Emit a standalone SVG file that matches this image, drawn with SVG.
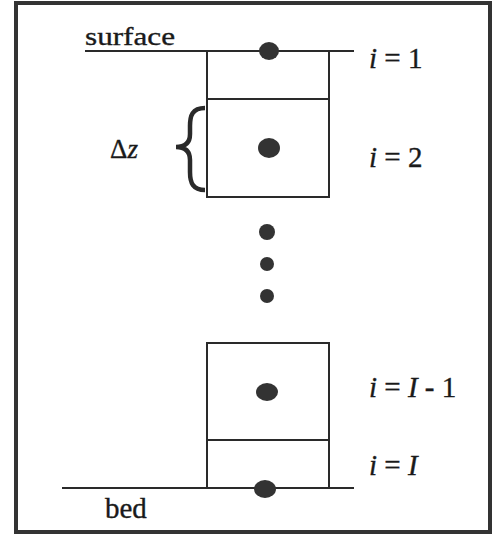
<svg xmlns="http://www.w3.org/2000/svg" width="500" height="540" viewBox="0 0 500 540">
<style>
.ln{stroke:#2a2a2a;stroke-width:2;fill:none}
.box{stroke:#2a2a2a;stroke-width:2;fill:#fff}
.dot{fill:#333}
.t{font-family:"Liberation Serif","Times New Roman",serif;fill:#1a1a1a;stroke:#1a1a1a;stroke-width:0.35}
.it{font-style:italic}
</style>
<rect x="0" y="0" width="500" height="540" fill="#fff"/>
<rect x="16" y="3" width="474" height="529" fill="none" stroke="#333" stroke-width="4"/>
<g id="connectors">
<line class="ln" x1="85" y1="51" x2="354" y2="51"/>
<line class="ln" x1="62" y1="488" x2="354" y2="488"/>
</g>
<g id="cell-top">
<path class="ln" d="M207,51 V99 H329 V51"/>
<ellipse class="dot" cx="269" cy="51" rx="10" ry="9"/>
</g>
<g id="cell-2">
<rect class="box" x="207" y="99" width="122" height="98"/>
<ellipse class="dot" cx="269" cy="148" rx="11" ry="10"/>
</g>
<g id="brace">
<path d="M205,108 C192,108 190,116 190,126 L190,134 C190,142 186,147 176,147 C186,147 190,152 190,160 L190,172 C190,183 193,190 205,190" fill="none" stroke="#2a2a2a" stroke-width="4.5"/>
</g>
<g id="ellipsis">
<circle class="dot" cx="267" cy="232" r="8"/>
<circle class="dot" cx="267" cy="264" r="7"/>
<circle class="dot" cx="267" cy="296" r="7"/>
</g>
<g id="cell-I-1">
<rect class="box" x="207" y="343" width="122" height="97"/>
<ellipse class="dot" cx="267" cy="392" rx="11" ry="9"/>
</g>
<g id="cell-I">
<path class="ln" d="M207,440 V488 M329,440 V488"/>
<ellipse class="dot" cx="265" cy="489" rx="11" ry="9"/>
</g>
<g id="labels">
<text class="t" x="85" y="45" font-size="26" textLength="90" lengthAdjust="spacingAndGlyphs">surface</text>
<text class="t" x="105" y="518" font-size="29">bed</text>
<text class="t" x="110" y="158" font-size="27">Δ<tspan class="it">z</tspan></text>
<text class="t" x="369" y="68" font-size="29"><tspan class="it">i</tspan> = 1</text>
<text class="t" x="369" y="167" font-size="29"><tspan class="it">i</tspan> = 2</text>
<text class="t" x="369" y="397" font-size="29"><tspan class="it">i</tspan> = <tspan class="it">I</tspan> - 1</text>
<text class="t" x="369" y="475" font-size="29"><tspan class="it">i</tspan> = <tspan class="it">I</tspan></text>
</g>
</svg>
